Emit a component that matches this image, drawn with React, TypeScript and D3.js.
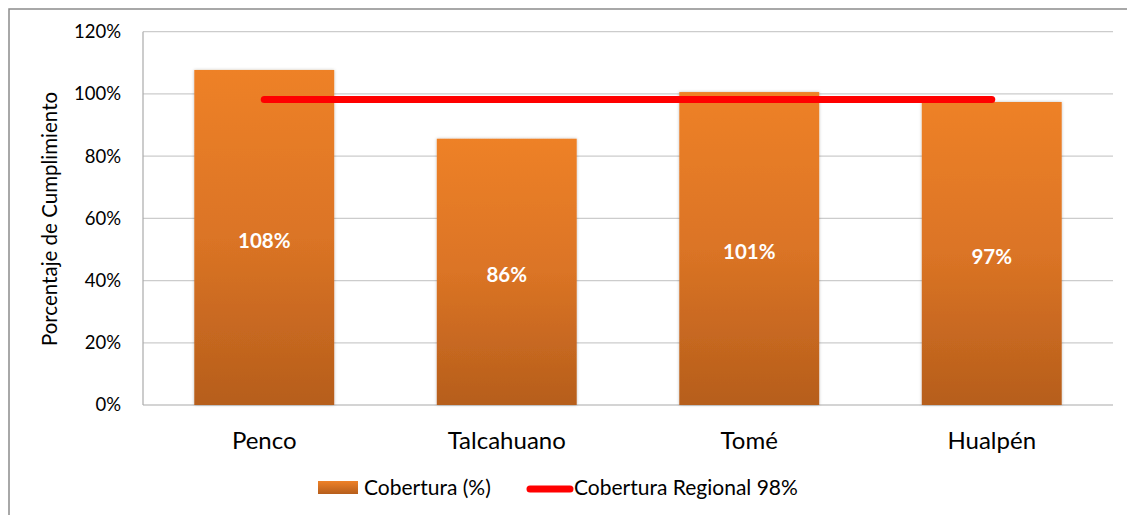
import React from "react";
import * as d3 from "d3";

const categories = ["Penco", "Talcahuano", "Tomé", "Hualpén"];
const coverage = [107.7, 85.6, 100.6, 97.4];
const coverageLabels = ["108%", "86%", "101%", "97%"];
const regionalValue = 98.2;
const yTicks = [0, 20, 40, 60, 80, 100, 120];
const seriesNames = ["Cobertura (%)", "Cobertura Regional 98%"];

const W = 1127;
const H = 515;
const M = { left: 143, right: 1113, top: 31.7, bottom: 405 };
const FONT = "Lato, 'Open Sans', sans-serif";

export default function App() {
  const x = d3.scaleBand<string>().domain(categories).range([M.left, M.right]).paddingInner(0.423).paddingOuter(0.2115);
  const y = d3.scaleLinear().domain([0, 120]).range([M.bottom, M.top]);
  const center = (c: string) => (x(c) ?? 0) + x.bandwidth() / 2;
  const lineGen = d3.line<string>().x((c) => center(c)).y(() => y(regionalValue));

  return (
    <svg width={W} height={H} style={{ position: "absolute", left: 0, top: 0, display: "block" }}>
      <defs>
        <linearGradient id="barGrad" x1="0" y1="0" x2="0" y2="1">
          <stop offset="0" stopColor="#EE8128" />
          <stop offset="0.5" stopColor="#DB7425" />
          <stop offset="1" stopColor="#B65E1C" />
        </linearGradient>
        <linearGradient id="legGrad" x1="0" y1="0" x2="0" y2="1">
          <stop offset="0" stopColor="#EE8128" />
          <stop offset="1" stopColor="#B65E1C" />
        </linearGradient>
        <filter id="shadow" x="-10%" y="-10%" width="120%" height="120%">
          <feDropShadow dx="0" dy="0" stdDeviation="1.5" floodColor="#000" floodOpacity="0.25" />
        </filter>
      </defs>
      <rect x={0} y={0} width={W} height={H} fill="#fff" />
      <rect x={9} y={9} width={W + 20} height={H + 20} fill="#fff" stroke="#8c8c8c" strokeWidth={1.5} />

      {yTicks.map((t) => (
        <g key={t}>
          {t > 0 && (
            <line x1={M.left} x2={M.right} y1={y(t)} y2={y(t)} stroke="#cccccc" strokeWidth={1.2} />
          )}
          <text x={121} y={y(t)} dy="0.35em" textAnchor="end" fontFamily={FONT} fontSize={18.5} fill="#000">
            {t}%
          </text>
        </g>
      ))}
      <line x1={M.left} x2={M.left} y1={M.top} y2={M.bottom} stroke="#aaaaaa" strokeWidth={1.2} />
      <line x1={M.left} x2={M.right} y1={M.bottom} y2={M.bottom} stroke="#aaaaaa" strokeWidth={1.2} />

      <text
        transform={`translate(57,219) rotate(-90)`}
        textAnchor="middle"
        fontFamily={FONT}
        fontSize={20.5}
        fill="#000"
      >
        Porcentaje de Cumplimiento
      </text>

      {categories.map((c, i) => (
        <g key={c}>
          <rect
            x={x(c)}
            y={y(coverage[i])}
            width={x.bandwidth()}
            height={y(0) - y(coverage[i])}
            fill="url(#barGrad)"
            filter="url(#shadow)"
          />
          <text
            x={center(c)}
            y={(y(coverage[i]) + y(0)) / 2 + 3}
            dy="0.35em"
            textAnchor="middle"
            fontFamily={FONT}
            fontWeight="bold"
            fontSize={20.5}
            fill="#fff"
          >
            {coverageLabels[i]}
          </text>
          <text x={center(c)} y={449} textAnchor="middle" fontFamily={FONT} fontSize={24} fill="#000">
            {c}
          </text>
        </g>
      ))}

      <path d={lineGen(categories) ?? ""} fill="none" stroke="#ff0000" strokeWidth={7} strokeLinecap="round" />

      <rect x={318} y={481} width={40} height={13} fill="url(#legGrad)" />
      <text x={364} y={495} fontFamily={FONT} fontSize={21} fill="#000">
        {seriesNames[0]}
      </text>
      <line x1={530} x2={570} y1={489} y2={489} stroke="#ff0000" strokeWidth={7} strokeLinecap="round" />
      <text x={574} y={495} fontFamily={FONT} fontSize={21} fill="#000">
        {seriesNames[1]}
      </text>
    </svg>
  );
}
